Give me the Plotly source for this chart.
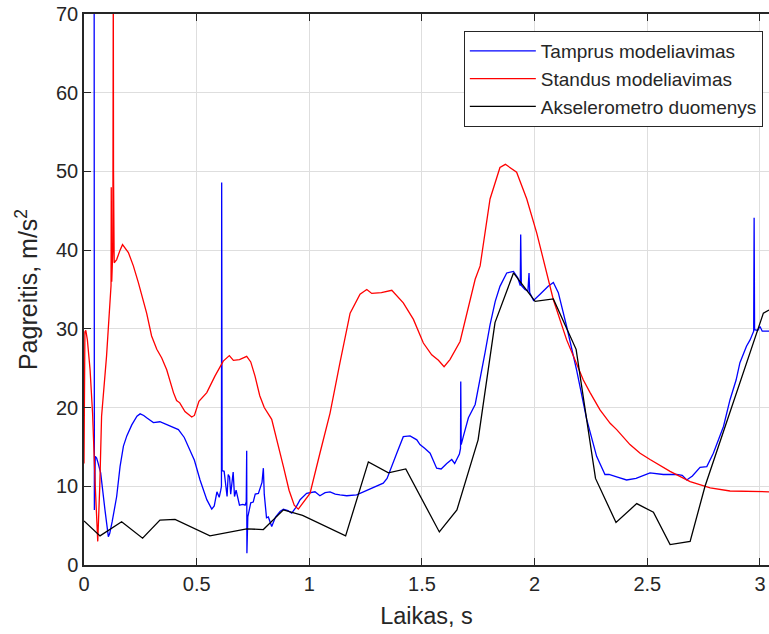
import plotly.graph_objects as go

# ---------------- data ----------------
tamprus_t = [0.044, 0.046, 0.050, 0.056, 0.062, 0.074, 0.093, 0.108, 0.114, 0.125, 0.145, 0.160,
             0.175, 0.190, 0.212, 0.235, 0.249, 0.265, 0.278, 0.308, 0.337, 0.370, 0.400, 0.419,
             0.445, 0.470, 0.490, 0.515, 0.545, 0.567, 0.578, 0.590, 0.600, 0.607, 0.610, 0.611,
             0.613, 0.622, 0.628, 0.635, 0.640, 0.646, 0.651, 0.656, 0.662, 0.668, 0.675, 0.690,
             0.705, 0.715, 0.720, 0.722, 0.723, 0.727, 0.740, 0.751, 0.760, 0.774, 0.790, 0.796,
             0.800, 0.810, 0.818, 0.833, 0.850, 0.870, 0.885, 0.905, 0.922, 0.940, 0.959, 0.988,
             1.025, 1.047, 1.070, 1.092, 1.115, 1.136, 1.166, 1.210, 1.255, 1.300, 1.328, 1.345,
             1.358, 1.388, 1.417, 1.447, 1.477, 1.491, 1.513, 1.536, 1.565, 1.585, 1.610, 1.632,
             1.645, 1.666, 1.671, 1.672, 1.674, 1.685, 1.706, 1.736, 1.758, 1.780, 1.802, 1.825,
             1.846, 1.876, 1.906, 1.925, 1.936, 1.938, 1.941, 1.957, 1.970, 1.975, 1.978, 1.995,
             2.024, 2.060, 2.083, 2.105, 2.142, 2.186, 2.231, 2.275, 2.312, 2.330, 2.364, 2.408,
             2.450, 2.512, 2.571, 2.630, 2.655, 2.675, 2.700, 2.734, 2.764, 2.793, 2.838, 2.867,
             2.894, 2.911, 2.940, 2.956, 2.972, 2.974, 2.976, 2.990, 3.000, 3.010, 3.040]
tamprus_v = [150, 7.0, 13.8, 13.6, 13.0, 11.7, 7.0, 3.6, 4.0, 5.5, 8.7, 12.5,
             15.1, 16.4, 17.8, 18.9, 19.2, 19.0, 18.7, 18.1, 18.2, 17.8, 17.5, 17.2,
             16.2, 14.6, 13.3, 10.8, 8.3, 7.1, 7.5, 9.3, 8.6, 9.5, 10.0, 48.6,
             12.0, 11.9, 10.2, 8.7, 11.5, 11.2, 9.0, 10.5, 11.8, 8.7, 9.5, 7.6,
             7.7, 7.6, 8.0, 14.5, 1.5, 6.1, 7.9, 8.0, 9.0, 9.1, 10.5, 12.3,
             9.0, 6.0, 6.1, 4.9, 6.1, 6.8, 7.1, 6.9, 6.6, 7.3, 8.3, 9.1,
             9.3, 8.8, 9.2, 9.3, 9.0, 8.9, 8.8, 8.9, 9.5, 10.1, 10.4, 11.0,
             11.9, 14.2, 16.3, 16.4, 15.9, 15.3, 14.8, 14.2, 12.3, 12.2, 12.9, 13.4,
             12.9, 14.1, 14.8, 23.3, 15.3, 16.5, 18.7, 20.4, 23.5, 27.0, 30.5, 33.5,
             35.4, 37.1, 37.3, 36.5, 35.5, 42.0, 35.5, 35.0, 34.8, 37.1, 34.6, 33.6,
             34.4, 35.4, 35.9, 34.6, 30.3, 24.8, 18.5, 13.8, 11.5, 11.5, 11.2, 10.8,
             11.0, 11.7, 11.5, 11.5, 11.4, 10.8, 11.3, 12.4, 12.5, 14.2, 17.6, 21.0,
             23.5, 25.7, 27.8, 28.6, 29.7, 44.1, 29.9, 29.8, 30.3, 29.7, 29.7]

standus_t = [0.000, 0.004, 0.008, 0.015, 0.027, 0.038, 0.050, 0.061, 0.070, 0.078, 0.100, 0.115,
             0.120, 0.121, 0.123, 0.128, 0.130, 0.131, 0.134, 0.145, 0.160, 0.171, 0.197, 0.219,
             0.241, 0.263, 0.278, 0.300, 0.323, 0.345, 0.367, 0.397, 0.411, 0.425, 0.448, 0.478,
             0.490, 0.510, 0.545, 0.581, 0.618, 0.645, 0.663, 0.690, 0.722, 0.740, 0.759, 0.780,
             0.800, 0.833, 0.860, 0.885, 0.910, 0.933, 0.951, 0.970, 1.003, 1.047, 1.092, 1.136,
             1.181, 1.225, 1.255, 1.277, 1.320, 1.366, 1.390, 1.417, 1.462, 1.506, 1.543, 1.573,
             1.598, 1.624, 1.669, 1.699, 1.736, 1.758, 1.802, 1.846, 1.870, 1.920, 1.965, 2.009,
             2.054, 2.083, 2.142, 2.216, 2.246, 2.290, 2.335, 2.364, 2.423, 2.468, 2.512, 2.601,
             2.690, 2.779, 2.867, 2.956, 3.040]
standus_v = [12.9, 29.6, 29.8, 28.6, 24.8, 19.3, 10.0, 3.0, 10.0, 18.9, 26.5, 34.1,
             35.5, 48.0, 36.0, 40.0, 75.0, 50.0, 38.4, 38.8, 40.0, 40.7, 39.7, 38.0,
             35.9, 33.7, 32.0, 29.1, 27.4, 26.3, 24.8, 21.9, 20.9, 20.6, 19.5, 18.8,
             19.0, 20.8, 21.9, 24.0, 25.9, 26.6, 26.0, 26.1, 26.5, 25.8, 24.0, 21.5,
             20.0, 18.5, 15.5, 12.5, 9.5, 7.6, 7.1, 7.8, 9.1, 14.2, 19.3, 25.7,
             32.0, 34.4, 35.0, 34.5, 34.6, 34.9, 34.2, 33.3, 31.2, 28.2, 26.7, 26.0,
             25.2, 26.1, 28.4, 32.0, 36.3, 38.0, 46.5, 50.5, 50.9, 49.9, 46.5, 42.2,
             37.1, 33.7, 28.6, 23.5, 21.9, 19.7, 18.0, 17.2, 15.3, 14.2, 13.4, 11.9,
             10.6, 9.8, 9.4, 9.3, 9.3]

akselerometro_t = [0.000, 0.071, 0.167, 0.260, 0.337, 0.404, 0.559, 0.722, 0.796, 0.885, 0.970,
                   1.161, 1.262, 1.351, 1.428, 1.577, 1.655, 1.749, 1.824, 1.906, 2.002, 2.083,
                   2.184, 2.270, 2.361, 2.453, 2.527, 2.601, 2.690, 2.756, 3.015, 3.040]
akselerometro_v = [5.6, 3.7, 5.5, 3.4, 5.7, 5.8, 3.7, 4.6, 4.5, 7.0, 6.3,
                   3.7, 13.1, 11.7, 12.2, 4.2, 7.0, 15.9, 30.8, 37.1, 33.5, 33.8,
                   27.4, 11.0, 5.4, 7.8, 6.7, 2.6, 3.0, 10.0, 32.0, 32.4]

series_names = ["Tamprus modeliavimas", "Standus modeliavimas", "Akselerometro duomenys"]
x_ticks = [0, 0.5, 1, 1.5, 2, 2.5, 3]
x_tick_labels = ["0", "0.5", "1", "1.5", "2", "2.5", "3"]
y_ticks = [0, 10, 20, 30, 40, 50, 60, 70]

# ---------------- figure ----------------
FONT = "Liberation Sans, Arial, sans-serif"
TXT = "#262626"

fig = go.Figure()
fig.add_trace(go.Scatter(x=tamprus_t, y=tamprus_v, mode="lines", name=series_names[0],
                         line=dict(color="#0000ff", width=1.3)))
fig.add_trace(go.Scatter(x=standus_t, y=standus_v, mode="lines", name=series_names[1],
                         line=dict(color="#ff0000", width=1.3)))
fig.add_trace(go.Scatter(x=akselerometro_t, y=akselerometro_v, mode="lines", name=series_names[2],
                         line=dict(color="#000000", width=1.3)))

fig.update_layout(
    width=769, height=634,
    margin=dict(l=84, r=0, t=14, b=69, autoexpand=False),
    paper_bgcolor="white", plot_bgcolor="white",
    font=dict(family=FONT, color=TXT, size=19),
    showlegend=True,
    legend=dict(x=0.991, y=0.969, xanchor="right", yanchor="top",
                bgcolor="white", bordercolor=TXT, borderwidth=1,
                font=dict(size=19, color=TXT), itemwidth=66,
                tracegroupgap=0),
)
fig.update_xaxes(
    range=[0, 3.04], tickvals=x_ticks, ticktext=x_tick_labels,
    automargin=False,
    showgrid=True, gridcolor="#dedede", gridwidth=1,
    showline=True, linecolor=TXT, linewidth=1.5, mirror="ticks",
    ticks="inside", ticklen=7, tickcolor=TXT, zeroline=False,
    tickfont=dict(size=20, color=TXT),
    title=dict(text="Laikas, s", font=dict(size=23.5, color=TXT), standoff=14),
)
fig.update_yaxes(
    range=[0, 70], tickvals=y_ticks,
    automargin=False,
    showgrid=True, gridcolor="#dedede", gridwidth=1,
    showline=True, linecolor=TXT, linewidth=1.5, mirror=False,
    ticks="inside", ticklen=7, tickcolor=TXT, zeroline=False,
    tickfont=dict(size=20, color=TXT),
    title=dict(text="Pagreitis, m/s<sup>2</sup>", font=dict(size=25, color=TXT), standoff=11),
)

fig.write_html("out.html",
               config={"displayModeBar": False},
               post_script="document.body.style.margin='0';document.body.style.overflow='hidden';")
